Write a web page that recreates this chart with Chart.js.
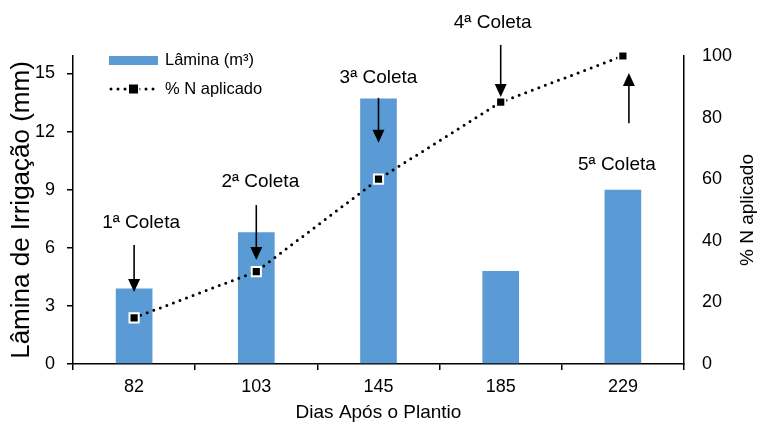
<!DOCTYPE html>
<html lang="pt">
<head>
<meta charset="utf-8">
<title>Lâmina de irrigação e % N aplicado</title>
<script src="https://cdn.jsdelivr.net/npm/chart.js@4.4.1/dist/chart.umd.min.js"></script>
<style>
  html, body { margin: 0; padding: 0; background: #ffffff; }
  #wrap { width: 760px; height: 426px; }
</style>
</head>
<body>
<div id="wrap"><canvas id="chart" width="760" height="426"></canvas></div>
<script>
// Dias após o plantio (categorias do eixo X)
const dias = ['82', '103', '145', '185', '229'];
// Lâmina de irrigação (mm) por data
const lamina = [3.9, 6.8, 13.7, 4.8, 9.0];
// Percentual acumulado de N aplicado
const nAplicado = [15, 30, 60, 85, 100];
// Rótulos das coletas
const coletas = ['1ª Coleta', '2ª Coleta', '3ª Coleta', '4ª Coleta', '5ª Coleta'];
// Marcas do eixo esquerdo e direito
const ticksLamina = [0, 3, 6, 9, 12, 15];
const ticksN = [0, 20, 40, 60, 80, 100];

// Posição das setas e textos das coletas, em unidades do eixo % N
const setas = [
  { texto: 45.8, cauda: 38.6, ponta: 23.4, dxTexto: 7,  dxSeta: 0 },
  { texto: 59.1, cauda: 51.6, ponta: 33.8, dxTexto: 4,  dxSeta: 0 },
  { texto: 92.9, cauda: 86.4, ponta: 71.8, dxTexto: 0,  dxSeta: 0 },
  { texto: 110.7, cauda: 103.6, ponta: 86.7, dxTexto: -8, dxSeta: 0 },
  { texto: 64.6, cauda: 78.2, ponta: 94.5, dxTexto: -6, dxSeta: 6 }
];

const FONTE = '"Liberation Sans", Arial, sans-serif';
const AZUL = '#5B9BD5';
const TITULO_DIREITO = '% N aplicado';
Chart.defaults.font.family = FONTE;
Chart.defaults.color = '#000000';

// Setas e textos "Coleta"
const coletaPlugin = {
  id: 'coletas',
  afterDatasetsDraw(chart) {
    const ctx = chart.ctx;
    const xs = chart.scales.x, ys = chart.scales.y1;
    ctx.save();
    ctx.fillStyle = '#000';
    ctx.strokeStyle = '#000';
    ctx.font = '19px ' + FONTE;
    ctx.textAlign = 'center';
    ctx.textBaseline = 'middle';
    coletas.forEach((txt, i) => {
      const s = setas[i];
      const xc = xs.getPixelForValue(i);
      ctx.fillText(txt, xc + s.dxTexto, ys.getPixelForValue(s.texto));
      const xa = xc + s.dxSeta;
      const y0 = ys.getPixelForValue(s.cauda);
      const y1 = ys.getPixelForValue(s.ponta);
      const dir = y1 > y0 ? 1 : -1;
      const head = 13, half = 6;
      ctx.lineWidth = 1.6;
      ctx.beginPath();
      ctx.moveTo(xa, y0);
      ctx.lineTo(xa, y1 - dir * head);
      ctx.stroke();
      ctx.beginPath();
      ctx.moveTo(xa, y1);
      ctx.lineTo(xa - half, y1 - dir * head);
      ctx.lineTo(xa + half, y1 - dir * head);
      ctx.closePath();
      ctx.fill();
    });
    ctx.restore();
  }
};

// Título do eixo direito, lido de baixo para cima
const tituloDireitoPlugin = {
  id: 'tituloDireito',
  afterDraw(chart) {
    const ctx = chart.ctx;
    const a = chart.chartArea;
    ctx.save();
    ctx.font = '19px ' + FONTE;
    ctx.fillStyle = '#000';
    ctx.textAlign = 'center';
    ctx.textBaseline = 'middle';
    ctx.translate(chart.width - 12, (a.top + a.bottom) / 2);
    ctx.rotate(-Math.PI / 2);
    ctx.fillText(TITULO_DIREITO, 0, 0);
    ctx.restore();
  }
};

// Legenda desenhada dentro da área do gráfico
const legendaPlugin = {
  id: 'legendaInterna',
  afterDraw(chart) {
    const ctx = chart.ctx;
    const a = chart.chartArea;
    const barra = chart.data.datasets.find(d => d.type === 'bar');
    const linha = chart.data.datasets.find(d => d.type === 'line');
    const x0 = a.left + 36, x1 = a.left + 85, xt = a.left + 92;
    const yA = a.top + 4, yB = a.top + 33;
    ctx.save();
    ctx.font = '16.5px ' + FONTE;
    ctx.textBaseline = 'middle';
    ctx.textAlign = 'left';
    ctx.fillStyle = barra.backgroundColor;
    ctx.fillRect(x0, yA - 4, x1 - x0, 9);
    ctx.fillStyle = '#000';
    ctx.fillText(barra.label, xt, yA);
    ctx.strokeStyle = linha.borderColor;
    ctx.lineWidth = 3;
    ctx.lineCap = 'round';
    ctx.setLineDash([0, 7]);
    ctx.beginPath();
    ctx.moveTo(x0 + 2, yB);
    ctx.lineTo(x1, yB);
    ctx.stroke();
    ctx.setLineDash([]);
    const xm = (x0 + x1) / 2;
    ctx.fillStyle = '#fff';
    ctx.fillRect(xm - 6, yB - 6, 12, 12);
    ctx.fillStyle = '#000';
    ctx.fillRect(xm - 4.5, yB - 4.5, 9, 9);
    ctx.fillText(linha.label, xt, yB);
    ctx.restore();
  }
};

new Chart(document.getElementById('chart'), {
  data: {
    labels: dias,
    datasets: [
      {
        type: 'line',
        label: '% N aplicado',
        data: nAplicado,
        yAxisID: 'y1',
        borderColor: '#000',
        borderWidth: 3,
        borderDash: [0, 7],
        borderCapStyle: 'round',
        tension: 0,
        fill: false,
        clip: false,
        pointStyle: 'rect',
        pointRadius: 6.5,
        pointBackgroundColor: '#000',
        pointBorderColor: '#fff',
        pointBorderWidth: 2,
        order: 0
      },
      {
        type: 'bar',
        label: 'Lâmina (m³)',
        data: lamina,
        yAxisID: 'y',
        backgroundColor: AZUL,
        borderWidth: 0,
        barPercentage: 0.3,
        categoryPercentage: 1.0,
        order: 1
      }
    ]
  },
  options: {
    responsive: false,
    animation: false,
    layout: { padding: { top: 56, left: 0, right: 0, bottom: 0 } },
    plugins: { legend: { display: false }, tooltip: { enabled: false } },
    scales: {
      x: {
        type: 'category',
        offset: true,
        grid: { display: true, drawOnChartArea: false, drawTicks: true, tickLength: 6, color: '#000', lineWidth: 1.5, offset: true },
        border: { display: true, color: '#000', width: 1.5 },
        ticks: { font: { size: 18 }, padding: 6, color: '#000' },
        title: { display: true, text: 'Dias Após o Plantio', font: { size: 19 }, padding: { top: 0, bottom: 2 }, color: '#000' },
        afterFit(s) { s.height = 62; }
      },
      y: {
        type: 'linear',
        position: 'left',
        min: 0,
        max: 15.9,
        grid: { display: true, drawOnChartArea: false, drawTicks: true, tickLength: 6, color: '#000', lineWidth: 1.5 },
        border: { display: true, color: '#000', width: 1.5 },
        afterBuildTicks(s) { s.ticks = ticksLamina.map(v => ({ value: v })); },
        ticks: { font: { size: 18 }, padding: 12, color: '#000' },
        title: { display: true, text: 'Lâmina de Irrigação (mm)', font: { size: 26 }, padding: { top: 6, bottom: 0 }, color: '#000' },
        afterFit(s) { s.width = 73; }
      },
      y1: {
        type: 'linear',
        position: 'right',
        min: 0,
        max: 100,
        grid: { display: false, drawOnChartArea: false, drawTicks: false },
        border: { display: true, color: '#000', width: 1.5 },
        afterBuildTicks(s) { s.ticks = ticksN.map(v => ({ value: v })); },
        ticks: { font: { size: 18 }, padding: 18, color: '#000' },
        afterFit(s) { s.width = 76; }
      }
    }
  },
  plugins: [coletaPlugin, tituloDireitoPlugin, legendaPlugin]
});
</script>
</body>
</html>
